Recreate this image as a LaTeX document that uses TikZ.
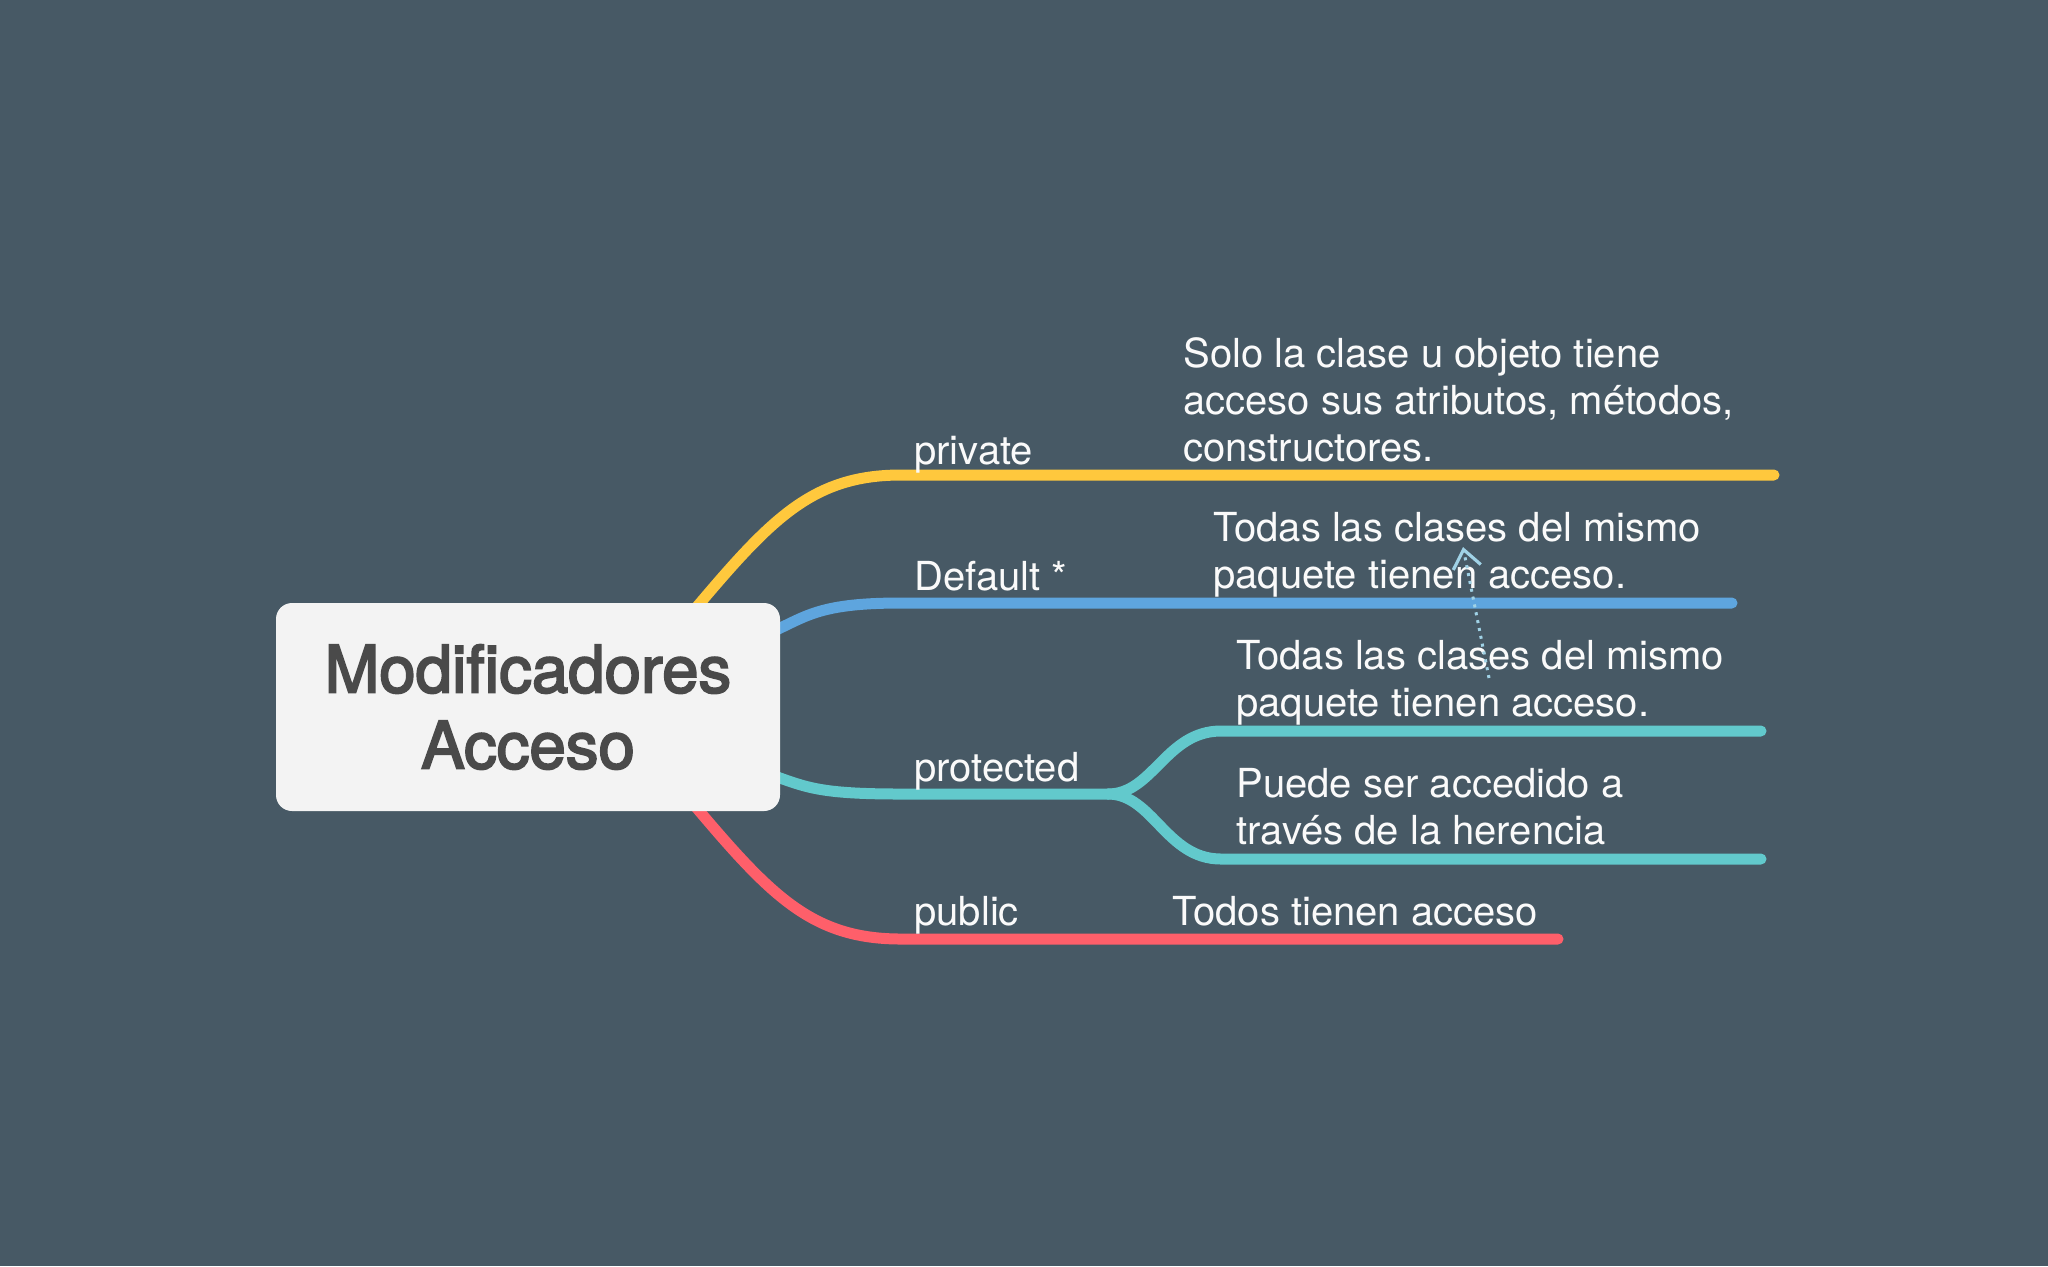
\documentclass[tikz,border=0pt]{standalone}
\usepackage{fontspec}
\setmainfont{TeX Gyre Heros}
\newfontfamily\centralFont[FakeBold=3]{TeX Gyre Heros}
\usetikzlibrary{arrows.meta}
\definecolor{backColor}{RGB}{71,89,101}
\definecolor{centralFill}{RGB}{243,243,243}
\definecolor{centralText}{RGB}{74,74,74}
\definecolor{privateColor}{RGB}{255,200,61}
\definecolor{defaultColor}{RGB}{94,165,222}
\definecolor{protectedColor}{RGB}{98,201,204}
\definecolor{publicColor}{RGB}{254,95,106}
\definecolor{linkColor}{RGB}{160,210,230}
\definecolor{topicWhite}{RGB}{250,250,250}
\tikzstyle{mindMap} = [x = 0.5pt, y = -0.5pt]
\tikzstyle{branchLine} = [line width = 5.5pt, line cap = round]
\tikzstyle{topicText} = [text = topicWhite, font = \fontsize{20}{23.5}\selectfont, inner sep = 0, anchor = base west, align = left]
\tikzstyle{centralStyle} = [fill = centralFill, text = centralText, rounded corners = 8pt, minimum width = 252pt, minimum height = 104pt, align = center, font = \centralFont\fontsize{32.7}{38}\selectfont]
\tikzstyle{linkStyle} = [color = linkColor, line width = 1.5pt, dash pattern = on 1.5pt off 2.5pt, -{Straight Barb[length = 9pt, width = 14pt, line width = 1.6pt]}]
\newcommand{\mainBranch}[3]{\draw [branchLine, color = #1] (#2Start) .. controls +(#3) and +(-90,0) .. (#2Bend) -- (#2End);}
\newcommand{\subBranch}[3]{\draw [branchLine, color = #1] (#2) .. controls +(45,0) and +(-55,0) .. (#3Bend) -- (#3End);}

\begin{document}
\begin{tikzpicture}[mindMap]
  \fill [backColor] (0,0) rectangle (2048,1266);
  \useasboundingbox (0,0) rectangle (2048,1266);

  % branch points
  \coordinate (privateStart) at (690,615);
  \coordinate (privateBend) at (901,475);
  \coordinate (privateEnd) at (1774,475);
  \coordinate (defaultStart) at (760,637);
  \coordinate (defaultBend) at (901,603);
  \coordinate (defaultEnd) at (1732,603);
  \coordinate (protectedStart) at (760,771);
  \coordinate (protectedBend) at (901,794);
  \coordinate (protectedEnd) at (1108,794);
  \coordinate (publicStart) at (690,800);
  \coordinate (publicBend) at (901,939);
  \coordinate (publicEnd) at (1558,939);
  \coordinate (samePackageBend) at (1221,731);
  \coordinate (samePackageEnd) at (1761,731);
  \coordinate (inheritBend) at (1221,859);
  \coordinate (inheritEnd) at (1761,859);

  \mainBranch{privateColor}{private}{80,-95}
  \mainBranch{defaultColor}{default}{45,-18}
  \mainBranch{protectedColor}{protected}{45,15}
  \mainBranch{publicColor}{public}{80,95}
  \subBranch{protectedColor}{protectedEnd}{samePackage}
  \subBranch{protectedColor}{protectedEnd}{inherit}

  \node [centralStyle] (central) at (528,707) {Modificadores\\Acceso};

  % labels (base = last line)
  \node [topicText] (privateLabel) at (914,464) {private};
  \node [topicText] (defaultLabel) at (914,590) {Default *};
  \node [topicText] (protectedLabel) at (914,781) {protected};
  \node [topicText] (publicLabel) at (914,925) {public};

  \node [topicText] (privateNote) at (1183,461) {Solo la clase u objeto tiene\\acceso sus atributos, métodos,\\constructores.};
  \node [topicText] (defaultNote) at (1213,588) {Todas las clases del mismo\\paquete tienen acceso.};
  \node [topicText] (samePackageNote) at (1236,716) {Todas las clases del mismo\\paquete tienen acceso.};
  \node [topicText] (inheritNote) at (1236,844) {Puede ser accedido a\\través de la herencia};
  \node [topicText] (publicNote) at (1172,925) {Todos tienen acceso};

  \coordinate (linkTail) at (1489,678);
  \coordinate (linkTip) at (1463,547);
  \draw [linkStyle] (linkTail) -- (linkTip);
\end{tikzpicture}
\end{document}
